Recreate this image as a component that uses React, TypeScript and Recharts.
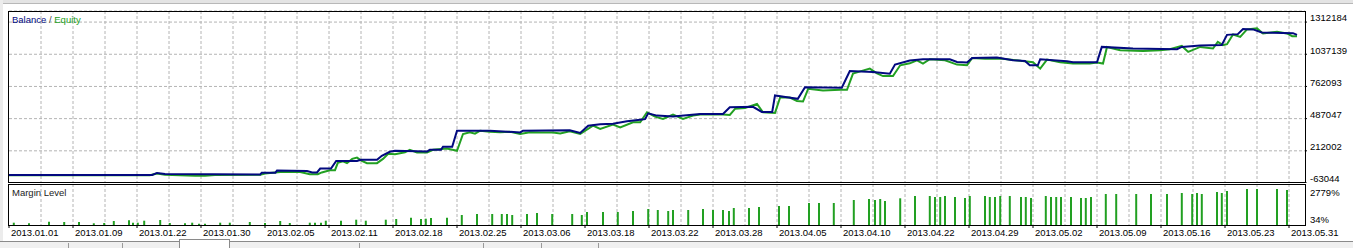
import { LineChart, Line, XAxis, YAxis, CartesianGrid, ComposedChart, Bar } from 'recharts';

// x = trade number on the tester axis, value = account money / margin level %
const balancePoints: [number, number][] = [
  [0, 5700], [17.9, 5700], [18.5, 22900], [19.5, 14300], [31.4, 10000], [31.6, 25500], [33.3, 25500],
  [33.5, 42700], [37.25, 40100], [37.9, 27200], [38.5, 27200], [38.9, 59900], [40.25, 59900],
  [40.9, 126000], [43.5, 126000], [44, 134600], [46, 134600], [46.6, 169000], [47.6, 203400],
  [48.25, 212000], [52.25, 206000], [52.6, 220600], [54, 220600], [54.25, 246400], [55.4, 246400],
  [56, 384000], [60.1, 384000], [63.9, 369300], [64.25, 384000], [70.1, 388200], [71.4, 364200],
  [72.4, 426900], [73.9, 438100], [75.5, 444000], [77.25, 463900], [78.9, 478400], [79.5, 482700],
  [79.9, 532600], [81, 512800], [83, 504200], [86.4, 527400], [89.25, 527400], [90.1, 584100],
  [93, 587500], [94.1, 544600], [95.4, 544600], [95.75, 684700], [97.25, 670100], [98.6, 656300],
  [99.5, 756000], [104.1, 750800], [105.1, 893600], [108, 884900], [110.1, 871200], [110.75, 948500],
  [112.6, 983000], [114.25, 994100], [117.6, 994100], [118.5, 971000], [119.75, 965800],
  [120.4, 1005400], [123.5, 1008800], [125.5, 985600], [127, 979600], [127.6, 942600],
  [128.6, 942600], [128.9, 994100], [132.25, 976900], [133, 968400], [136, 968400],
  [136.6, 1099900], [140.5, 1086100], [146, 1080100], [146.6, 1099900], [148.9, 1111900],
  [151.6, 1117100], [152.25, 1203000], [153.6, 1209000], [154.25, 1252000], [155.5, 1249400],
  [156.6, 1223600], [160.5, 1217600], [161, 1203000],
];

const equityPoints: [number, number][] = [
  [0, 3100], [17.6, 3100], [18.5, 18600], [19.5, 7400], [23.25, -300], [24.5, -300], [25.75, 5700],
  [31.4, 7400], [32, 18600], [33.9, 31500], [36.4, 31500], [37.6, 11700], [38.6, 11700],
  [39.1, 27200], [40.1, 46100], [40.75, 46100], [41.1, 108900], [41.75, 121800], [42.25, 106300],
  [42.9, 143200], [43.5, 154400], [44.1, 126100], [44.75, 106300], [46, 106300], [46.75, 143200],
  [47.4, 186200], [48.25, 183600], [49.5, 199100], [50.1, 220600], [51, 197400], [52.25, 197400],
  [53, 220600], [54.75, 231800], [56, 212000], [56.75, 355500], [57.6, 371000], [58.25, 358100],
  [58.9, 383900], [60.1, 375300], [61.4, 371000], [62.6, 375300], [63.9, 355500], [65.1, 371000],
  [66.4, 369300], [68, 369300], [68.9, 360700], [70.1, 379600], [71.4, 355500], [73, 426900],
  [73.9, 398500], [75.5, 435500], [76.4, 412300], [78, 455200], [78.9, 455200], [79.75, 541200],
  [80.75, 504200], [81.75, 484500], [83, 521400], [84.25, 484500], [85.5, 512800], [86.4, 521400],
  [89.25, 523100], [90.1, 518900], [90.75, 570400], [92, 577300], [93.5, 613400], [94.25, 541200],
  [95.75, 536000], [96.4, 670100], [97.6, 667500], [98.5, 637500], [99.25, 633200], [99.9, 742300],
  [101.75, 727700], [103.9, 733700], [104.75, 733700], [105.5, 871300], [106.4, 891000],
  [107.6, 914200], [108.5, 873800], [109.25, 850600], [110.5, 850600], [111.4, 942600],
  [112.6, 959800], [113.5, 985600], [114.25, 957200], [115.1, 994200], [117, 985600],
  [118.5, 948600], [119.75, 942600], [120.4, 1005300], [122, 998500], [123.9, 1000200],
  [126.4, 981300], [128, 968400], [128.9, 914200], [129.75, 991600], [131.4, 968400],
  [133, 957200], [135.1, 957200], [136, 965800], [136.75, 957200], [137.25, 1099900],
  [138.9, 1071500], [141.75, 1065500], [143.9, 1071500], [145.1, 1080100], [146.6, 1108500],
  [147.4, 1056900], [148.9, 1099900], [150.5, 1086100], [151.1, 1142900], [151.75, 1114500],
  [152.25, 1123100], [153, 1206500], [153.9, 1185800], [154.75, 1249400], [156, 1258000],
  [156.75, 1215100], [158.5, 1228800], [159.75, 1215100], [160.4, 1191900], [161, 1191900],
];

const marginPoints: [number, number][] = [
  [0.6, 210], [2.5, 164], [5, 286], [6.9, 263], [8.75, 263], [10.6, 164], [11.9, 187], [13.1, 339],
  [15, 392], [15.5, 210], [16.1, 210], [16.9, 362], [18.9, 415], [20.1, 187], [22, 164], [22.9, 210],
  [23.75, 133], [24.5, 133], [26.4, 210], [27.6, 210], [30.1, 263], [32, 187], [33.9, 339],
  [35.1, 187], [37.6, 210], [38.25, 210], [39, 210], [39.6, 362], [41.5, 362], [43.4, 438],
  [44.6, 362], [47.1, 438], [48.4, 492], [50.25, 591], [51.5, 492], [52.1, 514], [52.75, 568],
  [54.75, 591], [56.6, 797], [58.5, 873], [60.4, 873], [61.6, 873], [62.25, 873], [62.9, 797],
  [64.75, 873], [66, 949], [67.9, 873], [70.4, 873], [71.6, 797], [72.25, 1025], [74.25, 1025],
  [76.1, 1025], [78, 1102], [79.9, 1254], [81.1, 1178], [82.4, 1102], [83, 1178], [84.9, 1178],
  [86.75, 1254], [88, 1178], [89.25, 1178], [90, 1102], [90.6, 1330], [92.5, 1330], [93.75, 1407],
  [96.25, 1483], [97.5, 1483], [100, 1712], [101.25, 1712], [103.1, 1712], [105.6, 1940],
  [107.5, 2017], [108.25, 1940], [108.9, 2017], [109.5, 1864], [111.4, 2070], [113.25, 2245],
  [115.1, 2245], [115.75, 2169], [116.4, 2169], [117, 2245], [118.25, 2169], [119.5, 2093],
  [120.1, 2245], [122, 2245], [122.6, 2169], [123.25, 2169], [123.9, 2245], [125.1, 2245],
  [126.5, 2169], [127.1, 2169], [127.75, 2093], [129.6, 2245], [130.25, 2169], [130.9, 2169],
  [131.5, 2169], [132.75, 2169], [134, 2093], [134.6, 2093], [135.25, 2169], [137.1, 2398],
  [138.4, 2398], [140.9, 2398], [142.75, 2398], [144.75, 2398], [146.6, 2474], [147.9, 2398],
  [148.5, 2474], [149.1, 2398], [151, 2550], [151.6, 2474], [152.25, 2627], [154.75, 2779],
  [156, 2779], [158.5, 2779], [159.75, 2703],
];

const dateLabels = [
  '2013.01.01', '2013.01.09', '2013.01.22', '2013.01.30', '2013.02.05', '2013.02.11', '2013.02.18',
  '2013.02.25', '2013.03.06', '2013.03.18', '2013.03.22', '2013.03.28', '2013.04.05', '2013.04.10',
  '2013.04.22', '2013.04.29', '2013.05.02', '2013.05.09', '2013.05.16', '2013.05.23', '2013.05.31',
];
const moneyTicks = [-63044, 212002, 487047, 762093, 1037139, 1312184];
const marginTicks = [34, 2779];

const X_MAX = 162;
const labelTicks = dateLabels.map((_, i) => i * 8);
const gridTicks = Array.from({ length: 40 }, (_, i) => (i + 1) * 4);

const balanceData = balancePoints.map(([x, v]) => ({ x, v }));
const equityData = equityPoints.map(([x, v]) => ({ x, v }));
const marginData = marginPoints.map(([x, v]) => ({ x, v }));

const FONT = '"Liberation Sans", Arial, sans-serif';
const FS = 9.5;
const GRID = '#b4b4b4';
const BALANCE = '#02097f';
const EQUITY = '#22a022';

// vertical dashed lines every half label step across the x domain
const gridX = (props: any) => {
  const scale = props?.xAxis?.scale;
  if (typeof scale === 'function') return gridTicks.map((t) => scale(t));
  const { left, width } = props.offset;
  return gridTicks.map((t) => left + (t / X_MAX) * width);
};

const MoneyTick = ({ x, y, payload }: any) => (
  <text x={x} y={y - 4} dy="0.35em" fontSize={FS} fontFamily={FONT} fill="#000" textAnchor="start">
    {payload.value}
  </text>
);

const MarginTick = ({ x, y, payload }: any) => (
  <text x={x} y={payload.value === 34 ? y - 5 : y + 4} dy="0.35em" fontSize={FS} fontFamily={FONT} fill="#000" textAnchor="start">
    {payload.value}%
  </text>
);

const DateTick = ({ x, y, payload }: any) => (
  <text x={x + 2} y={y + 3} dy="0.35em" fontSize={FS} fontFamily={FONT} fill="#000" textAnchor="start">
    {dateLabels[Math.round(payload.value / 8)]}
  </text>
);

const box = (left: number, top: number, width: number, height: number) => ({
  position: 'absolute' as const, left, top, width, height, boxSizing: 'border-box' as const,
  border: '1px solid #000', pointerEvents: 'none' as const,
});

const tabSeps = [68, 122, 359, 483, 541, 598];

export default function App() {
  return (
    <div style={{ position: 'absolute', left: 0, top: 0, width: 1353, height: 248, background: '#fff', overflow: 'hidden', fontFamily: FONT }}>
      <div style={{ position: 'absolute', left: 0, top: 0, width: 1353, height: 3, background: '#e4e4e4', borderBottom: '1px solid #b8b8b8' }} />
      <div style={{ position: 'absolute', left: 0, top: 0, width: 3, height: 248, background: '#ececec' }} />

      <div style={{ position: 'absolute', left: 0, top: 0 }}>
        <LineChart width={1353} height={183} margin={{ top: 11, right: 0, bottom: 0, left: 9 }}>
          <CartesianGrid stroke={GRID} strokeDasharray="3 2" verticalCoordinatesGenerator={gridX} />
          <XAxis type="number" dataKey="x" domain={[0, X_MAX]} hide />
          <YAxis orientation="right" type="number" domain={[-63044, 1406734]} ticks={moneyTicks} width={48}
            axisLine={false} tickLine={{ stroke: '#000' }} tickSize={2} tickMargin={3} tick={<MoneyTick />} interval={0} />
          <Line data={equityData} dataKey="v" stroke={EQUITY} strokeWidth={2} dot={false} isAnimationActive={false} type="linear" />
          <Line data={balanceData} dataKey="v" stroke={BALANCE} strokeWidth={2} dot={false} isAnimationActive={false} type="linear" />
        </LineChart>
      </div>

      <div style={{ position: 'absolute', left: 0, top: 184 }}>
        <ComposedChart width={1353} height={56} data={marginData} margin={{ top: 0, right: 0, bottom: 0, left: 9 }}>
          <CartesianGrid stroke={GRID} strokeDasharray="3 2" horizontal={false} verticalCoordinatesGenerator={gridX} />
          <XAxis type="number" dataKey="x" domain={[0, X_MAX]} ticks={labelTicks} interval={0} height={15}
            axisLine={false} tickLine={{ stroke: '#000' }} tickSize={3} tickMargin={2} tick={<DateTick />} />
          <YAxis orientation="right" type="number" domain={[34, 3160]} ticks={marginTicks} width={48}
            axisLine={false} tickLine={false} tickSize={2} tickMargin={3} tick={<MarginTick />} interval={0} />
          <Bar dataKey="v" fill={EQUITY} barSize={2} isAnimationActive={false} />
        </ComposedChart>
      </div>

      <div style={box(8, 11, 1298, 172)} />
      <div style={box(8, 184, 1298, 42)} />

      <div style={{ position: 'absolute', left: 12, top: 14, fontSize: FS, whiteSpace: 'nowrap' }}>
        <span style={{ color: BALANCE }}>Balance</span>
        <span style={{ color: '#444' }}> / </span>
        <span style={{ color: EQUITY }}>Equity</span>
      </div>
      <div style={{ position: 'absolute', left: 12, top: 187, fontSize: FS, color: '#222', whiteSpace: 'nowrap' }}>Margin Level</div>

      <div style={{ position: 'absolute', left: 0, top: 241, width: 1353, height: 7, background: '#f0f0f0', borderTop: '1px solid #8a8a8a' }} />
      {tabSeps.map((s) => (
        <div key={s} style={{ position: 'absolute', left: s, top: 243, width: 1, height: 5, background: '#9a9a9a' }} />
      ))}
      <div style={{ position: 'absolute', left: 179, top: 239, width: 51, height: 10, background: '#fff', border: '1px solid #8a8a8a', borderBottom: 'none', boxSizing: 'border-box' }} />
    </div>
  );
}
